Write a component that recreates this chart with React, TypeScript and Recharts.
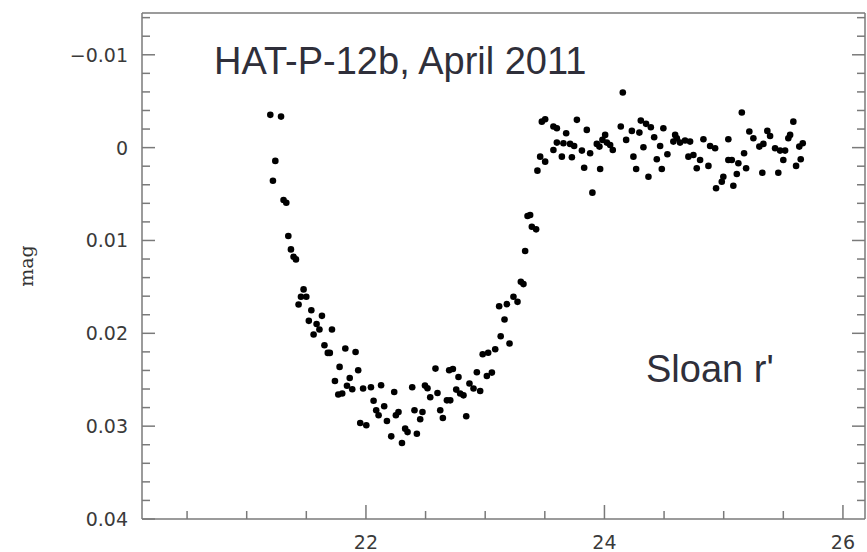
import { ScatterChart, Scatter, XAxis, YAxis } from "recharts";

// time (hours) and relative magnitude
const TIME = [
  21.198, 21.220, 21.240, 21.288, 21.309, 21.332, 21.349, 21.371, 21.393, 21.413,
  21.435, 21.455, 21.477, 21.500, 21.521, 21.542, 21.561, 21.586, 21.610, 21.631,
  21.652, 21.680, 21.697, 21.715, 21.740, 21.768, 21.779, 21.801, 21.827, 21.841,
  21.864, 21.885, 21.913, 21.935, 21.952, 21.976, 22.003, 22.042, 22.064, 22.086,
  22.106, 22.127, 22.153, 22.176, 22.212, 22.237, 22.251, 22.273, 22.302, 22.329,
  22.349, 22.388, 22.407, 22.427, 22.455, 22.474, 22.495, 22.516, 22.539, 22.583,
  22.600, 22.623, 22.645, 22.679, 22.698, 22.707, 22.729, 22.757, 22.776, 22.790,
  22.818, 22.841, 22.868, 22.902, 22.930, 22.958, 22.979, 23.014, 23.025, 23.056,
  23.084, 23.117, 23.130, 23.162, 23.182, 23.204, 23.237, 23.271, 23.299, 23.321,
  23.335, 23.355, 23.377, 23.391, 23.427, 23.438, 23.461, 23.475, 23.503, 23.503,
  23.572, 23.572, 23.601, 23.601, 23.643, 23.656, 23.679, 23.712, 23.727, 23.746,
  23.769, 23.811, 23.830, 23.852, 23.880, 23.899, 23.936, 23.958, 23.964, 23.983,
  24.006, 24.020, 24.048, 24.070, 24.137, 24.154, 24.182, 24.230, 24.243, 24.266,
  24.293, 24.305, 24.327, 24.349, 24.369, 24.389, 24.417, 24.439, 24.467, 24.481,
  24.494, 24.528, 24.578, 24.593, 24.607, 24.634, 24.676, 24.704, 24.718, 24.746,
  24.774, 24.802, 24.830, 24.872, 24.886, 24.928, 24.936, 24.984, 24.997, 25.039,
  25.039, 25.068, 25.081, 25.110, 25.123, 25.152, 25.171, 25.188, 25.215, 25.249,
  25.299, 25.324, 25.333, 25.366, 25.389, 25.431, 25.458, 25.473, 25.500, 25.515,
  25.542, 25.557, 25.584, 25.607, 25.634, 25.646, 25.663,
];

const MAG = [
  -0.00353, 0.00356, 0.00143, -0.00334, 0.00564, 0.00593, 0.00952, 0.01096, 0.01176, 0.01204,
  0.01689, 0.01607, 0.01527, 0.01607, 0.01866, 0.01751, 0.02013, 0.01899, 0.01959, 0.01812,
  0.02128, 0.02211, 0.02211, 0.01959, 0.02513, 0.02659, 0.02362, 0.02649, 0.02164, 0.02565,
  0.02481, 0.02603, 0.02201, 0.02398, 0.02966, 0.02595, 0.02991, 0.02581, 0.02727, 0.02829,
  0.02883, 0.02560, 0.02786, 0.02945, 0.03110, 0.02632, 0.02883, 0.02848, 0.03182, 0.03027,
  0.03064, 0.02581, 0.02829, 0.03081, 0.02926, 0.02848, 0.02563, 0.02592, 0.02689, 0.02380,
  0.02643, 0.02829, 0.02912, 0.02722, 0.02398, 0.02722, 0.02384, 0.02606, 0.02470, 0.02649,
  0.02668, 0.02894, 0.02541, 0.02595, 0.02420, 0.02621, 0.02225, 0.02459, 0.02209, 0.02423,
  0.02171, 0.01708, 0.02031, 0.01851, 0.01686, 0.02110, 0.01607, 0.01661, 0.01445, 0.01470,
  0.01114, 0.00737, 0.00726, 0.00852, 0.00880, 0.00248, 0.00097, -0.00280, 0.00151, -0.00306,
  -0.00227, 0.00025, -0.00209, -0.00054, 0.00097, -0.00047, -0.00155, -0.00040, 0.00104, -0.00018,
  -0.00299, 0.00032, 0.00216, -0.00191, 0.00060, 0.00485, -0.00040, -0.00011, 0.00230, -0.00083,
  -0.00137, -0.00054, -0.00029, 0.00025, -0.00227, -0.00593, -0.00083, -0.00180, 0.00097, 0.00230,
  -0.00162, -0.00291, -0.00004, -0.00256, 0.00313, -0.00220, -0.00112, 0.00125, -0.00018, 0.00230,
  -0.00209, 0.00071, -0.00065, -0.00137, -0.00101, -0.00054, -0.00076, 0.00097, -0.00065, 0.00079,
  0.00222, 0.00133, -0.00091, 0.00197, -0.00018, 0.00006, 0.00438, 0.00367, 0.00313, -0.00091,
  0.00133, 0.00133, 0.00410, 0.00284, 0.00168, -0.00378, 0.00060, 0.00222, -0.00173, -0.00101,
  -0.00011, 0.00270, -0.00040, -0.00180, -0.00126, 0.00006, 0.00270, 0.00032, 0.00133, 0.00032,
  -0.00101, -0.00137, -0.00280, 0.00197, -0.00011, 0.00125, -0.00047,
];

const X_TICKS = [20.5, 21, 21.5, 22, 22.5, 23, 23.5, 24, 24.5, 25, 25.5, 26];
const X_LABELS = [22, 24, 26];
const Y_TICKS = [
  -0.014, -0.012, -0.01, -0.008, -0.006, -0.004, -0.002, 0, 0.002, 0.004, 0.006, 0.008,
  0.01, 0.012, 0.014, 0.016, 0.018, 0.02, 0.022, 0.024, 0.026, 0.028,
  0.03, 0.032, 0.034, 0.036, 0.038,
];
const Y_LABELS = [-0.01, 0, 0.01, 0.02, 0.03, 0.04];
const Y_LABEL_TEXT = ["\u22120.01", "0", "0.01", "0.02", "0.03", "0.04"];

const X_DOMAIN = [20.122, 26.185];
const Y_DOMAIN = [-0.0145, 0.04];

const data = TIME.map((t, i) => ({ x: t, y: MAG[i] }));

const AXIS = "#7a7a7a";
const LABEL_FONT = { fontFamily: "DejaVu Sans", fontSize: 19, fill: "#3a3a3a" };

const isMajorX = (v: number) => X_LABELS.some(l => Math.abs(l - v) < 1e-9);
const yLabelIndex = (v: number) => Y_LABELS.findIndex(l => Math.abs(l - v) < 1e-9);

const BottomTick = ({ x, y, payload }: any) => {
  const major = isMajorX(payload.value);
  return (
    <g>
      <line x1={x} x2={x} y1={y} y2={y - (major ? 14 : 8)} stroke={AXIS} strokeWidth={1.5} />
      {major && (
        <text x={x} y={y + 30} textAnchor="middle" {...LABEL_FONT}>{payload.value}</text>
      )}
    </g>
  );
};

const TopTick = ({ x, y, payload }: any) => {
  const major = isMajorX(payload.value);
  return <line x1={x} x2={x} y1={y} y2={y + (major ? 14 : 8)} stroke={AXIS} strokeWidth={1.5} />;
};

const LeftTick = ({ x, y, payload }: any) => {
  const idx = yLabelIndex(payload.value);
  return (
    <g>
      <line x1={x} x2={x + (idx >= 0 ? 13 : 8)} y1={y} y2={y} stroke={AXIS} strokeWidth={1.5} />
      {idx >= 0 && (
        <text x={x - 14} y={y} textAnchor="end" dominantBaseline="central" {...LABEL_FONT}>
          {Y_LABEL_TEXT[idx]}
        </text>
      )}
    </g>
  );
};

const RightTick = ({ x, y, payload }: any) => {
  const idx = yLabelIndex(payload.value);
  return <line x1={x} x2={x - (idx >= 0 ? 13 : 8)} y1={y} y2={y} stroke={AXIS} strokeWidth={1.5} />;
};

const Dot = (props: any) => <circle cx={props.cx} cy={props.cy} r={3.3} fill="#000" />;

export default function App() {
  return (
    <div style={{ position: "absolute", left: 0, top: 0, width: 867, height: 552, background: "#fff" }}>
      <ScatterChart width={867} height={552} margin={{ top: 0, right: 0, bottom: 0, left: 0 }}>
        <XAxis
          xAxisId="b" dataKey="x" type="number" domain={X_DOMAIN} allowDataOverflow
          ticks={X_TICKS} interval={0} height={33} tickSize={0} tickMargin={0}
          axisLine={{ stroke: AXIS, strokeWidth: 1.5 }} tick={<BottomTick />}
        />
        <XAxis
          xAxisId="t" orientation="top" type="number" domain={X_DOMAIN} allowDataOverflow
          ticks={X_TICKS} interval={0} height={13} tickSize={0} tickMargin={0}
          axisLine={{ stroke: AXIS, strokeWidth: 1.5 }} tick={<TopTick />}
        />
        <YAxis
          yAxisId="l" dataKey="y" type="number" domain={Y_DOMAIN} reversed allowDataOverflow
          ticks={[...Y_TICKS, 0.04]} interval={0} width={142} tickSize={0} tickMargin={0}
          axisLine={{ stroke: AXIS, strokeWidth: 1.5 }} tick={<LeftTick />}
          label={{
            value: "mag", angle: -90, position: "insideLeft", offset: 26,
            style: { fontFamily: "DejaVu Serif", fontSize: 19, fill: "#333", textAnchor: "middle" },
          }}
        />
        <YAxis
          yAxisId="r" orientation="right" type="number" domain={Y_DOMAIN} reversed allowDataOverflow
          ticks={Y_TICKS} interval={0} width={2} tickSize={0} tickMargin={0}
          axisLine={{ stroke: AXIS, strokeWidth: 1.5 }} tick={<RightTick />}
        />
        <Scatter data={data} xAxisId="b" yAxisId="l" shape={<Dot />} isAnimationActive={false} />
        <text x={214} y={74} fontFamily="Liberation Sans" fontSize={38} fill="#2f2f3a">
          HAT-P-12b, April 2011
        </text>
        <text x={646} y={382} fontFamily="Liberation Sans" fontSize={38} fill="#2f2f3a">
          Sloan r'
        </text>
      </ScatterChart>
    </div>
  );
}
